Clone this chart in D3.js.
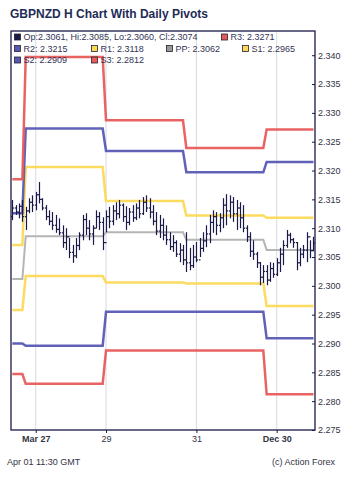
<!DOCTYPE html>
<html>
<head>
<meta charset="utf-8">
<script src="https://cdn.jsdelivr.net/npm/d3@7"></script>
<style>
body{margin:0;background:#fff;}
svg{display:block;font-family:"Liberation Sans",Arial,sans-serif;}
</style>
</head>
<body>
<div id="chart"></div>
<script>
// hourly bars, oldest first
var highs = [2.3149,2.3140,2.3143,2.3149,2.3137,2.3152,2.3157,2.3163,2.3180,2.3152,
	2.3140,2.3131,2.3128,2.3123,2.3117,2.3105,2.3100,2.3083,2.3071,2.3083,
	2.3093,2.3123,2.3126,2.3114,2.3105,2.3131,2.3128,2.3119,2.3131,2.3137,
	2.3140,2.3145,2.3149,2.3143,2.3138,2.3135,2.3140,2.3143,2.3149,2.3154,
	2.3157,2.3152,2.3140,2.3128,2.3123,2.3117,2.3105,2.3093,2.3088,2.3079,
	2.3074,2.3071,2.3093,2.3066,2.3071,2.3076,2.3083,2.3093,2.3105,2.3123,
	2.3131,2.3128,2.3126,2.3152,2.3159,2.3157,2.3154,2.3149,2.3145,2.3140,
	2.3105,2.3093,2.3079,2.3059,2.3041,2.3036,2.3036,2.3041,2.3040,2.3048,
	2.3066,2.3079,2.3097,2.3092,2.3083,2.3076,2.3066,2.3071,2.3093,2.3079,2.3085]
var lows = [2.3114,2.3123,2.3117,2.3111,2.3097,2.3126,2.3128,2.3131,2.3143,2.3131,
	2.3114,2.3105,2.3097,2.3092,2.3088,2.3066,2.3062,2.3048,2.3040,2.3048,
	2.3062,2.3079,2.3088,2.3079,2.3071,2.3100,2.3097,2.3062,2.3093,2.3100,
	2.3105,2.3114,2.3117,2.3111,2.3097,2.3105,2.3111,2.3114,2.3117,2.3123,
	2.3128,2.3117,2.3105,2.3088,2.3083,2.3079,2.3071,2.3062,2.3059,2.3050,
	2.3041,2.3036,2.3024,2.3027,2.3031,2.3041,2.3050,2.3059,2.3067,2.3074,
	2.3092,2.3088,2.3093,2.3100,2.3105,2.3117,2.3111,2.3097,2.3100,2.3093,
	2.3076,2.3050,2.3045,2.3031,2.3001,2.3005,2.3001,2.3007,2.3014,2.3017,
	2.3024,2.3036,2.3066,2.3074,2.3066,2.3027,2.3034,2.3048,2.3041,2.3048,2.3060]
var opens = [2.3120,2.3135,2.3128,2.3138,2.3120,2.3130,2.3145,2.3140,2.3158,2.3150,
	2.3135,2.3120,2.3112,2.3105,2.3098,2.3092,2.3075,2.3085,2.3058,2.3052,
	2.3070,2.3088,2.3115,2.3100,2.3090,2.3100,2.3120,2.3110,2.3075,2.3120,
	2.3112,2.3130,2.3125,2.3140,2.3120,2.3110,2.3128,2.3118,2.3135,2.3125,
	2.3145,2.3135,2.3128,2.3112,2.3095,2.3105,2.3088,2.3080,2.3068,2.3075,
	2.3055,2.3062,2.3045,2.3040,2.3035,2.3050,2.3045,2.3065,2.3078,2.3090,
	2.3110,2.3120,2.3105,2.3118,2.3140,2.3130,2.3145,2.3125,2.3135,2.3118,
	2.3100,2.3085,2.3060,2.3055,2.3040,2.3015,2.3025,2.3010,2.3030,2.3020,
	2.3040,2.3055,2.3070,2.3088,2.3080,2.3075,2.3040,2.3055,2.3062,2.3085,2.3061]
var closes = [2.3135,2.3128,2.3138,2.3120,2.3130,2.3145,2.3140,2.3158,2.3150,2.3135,
	2.3120,2.3112,2.3105,2.3098,2.3092,2.3075,2.3085,2.3058,2.3052,2.3070,
	2.3088,2.3115,2.3100,2.3090,2.3100,2.3120,2.3110,2.3075,2.3120,2.3112,
	2.3130,2.3125,2.3140,2.3120,2.3110,2.3128,2.3118,2.3135,2.3125,2.3145,
	2.3135,2.3128,2.3112,2.3095,2.3105,2.3088,2.3080,2.3068,2.3075,2.3055,
	2.3062,2.3045,2.3040,2.3035,2.3050,2.3045,2.3065,2.3078,2.3090,2.3110,
	2.3120,2.3105,2.3118,2.3140,2.3130,2.3145,2.3125,2.3135,2.3118,2.3100,
	2.3085,2.3060,2.3055,2.3040,2.3015,2.3025,2.3010,2.3030,2.3020,2.3040,
	2.3055,2.3070,2.3088,2.3080,2.3075,2.3040,2.3055,2.3062,2.3085,2.3061,2.3074]

// daily pivots: first bar index of each day, then one level per day
var dayStarts = [0,4,28,52,76]
var R3 = [2.3185,2.3397,2.3287,2.3239,2.3271]
var R2 = [2.3126,2.3273,2.3234,2.3197,2.3215]
var R1 = [2.3071,2.3206,2.3147,2.3122,2.3118]
var PP = [2.3012,2.3086,2.3093,2.3080,2.3062]
var S1 = [2.2958,2.3017,2.3006,2.3004,2.2965]
var S2 = [2.2900,2.2896,2.2955,2.2955,2.2909]
var S3 = [2.2847,2.2830,2.2888,2.2888,2.2812]

var xTickIdx = [7,28,55,79]
var xTickLabels = ["Mar 27","29","31","Dec 30"]
var xTickBold = [true,false,false,true]
var yTicks = [2.275,2.280,2.285,2.290,2.295,2.300,2.305,2.310,2.315,2.320,2.325,2.330,2.335,2.340]

var colors = {R3:"#e85b5b",R2:"#5858b4",R1:"#fcd955",PP:"#b5b5b5",S1:"#fcd955",S2:"#5858b4",S3:"#e85b5b"}
var levels = {R3:R3,R2:R2,R1:R1,PP:PP,S1:S1,S2:S2,S3:S3}

var W = 350, H = 481
var plot = {left:11,right:315,top:31,bottom:430}
var ink = "#1a1a48"

var svg = d3.select("#chart").append("svg").attr("width",W).attr("height",H)

var x = d3.scaleLinear().domain([-0.4,90.45]).range([plot.left,plot.right])
var y = d3.scaleLinear().domain([2.275,2.3442]).range([plot.bottom,plot.top])

function dayOf(i){
	var d = 0
	for(var k=0;k<dayStarts.length;k++){ if(i>=dayStarts[k]) d = k }
	return d
}

// title
svg.append("text").attr("x",10).attr("y",18)
	.attr("font-size","12px").attr("font-weight","bold").attr("fill","#1e2b55")
	.text("GBPNZD H Chart With Daily Pivots")

// vertical grid
svg.append("g").selectAll("line").data(xTickIdx).enter().append("line")
	.attr("x1",function(d){return x(d)}).attr("x2",function(d){return x(d)})
	.attr("y1",plot.top).attr("y2",plot.bottom)
	.attr("stroke","#d9d9e2").attr("stroke-width",1)

// pivot lines
var line = d3.line().x(function(d){return x(d.i)}).y(function(d){return y(d.v)})
var order = ["PP","S3","S2","S1","R1","R2","R3"]
order.forEach(function(k){
	var pts = highs.map(function(h,i){ return {i:i,v:levels[k][dayOf(i)]} })
	svg.append("path").datum(pts).attr("d",line)
		.attr("fill","none").attr("stroke",colors[k])
		.attr("stroke-width",k=="PP"?2:2.5)
		.attr("stroke-opacity",k=="PP"?1:0.95)
})

// OHLC bars
var bars = svg.append("g").attr("stroke",ink).attr("stroke-width",1.2)
highs.forEach(function(h,i){
	var cx = Math.round(x(i))+0.5
	bars.append("line").attr("x1",cx).attr("x2",cx).attr("y1",y(h)).attr("y2",y(lows[i]))
	bars.append("line").attr("x1",cx-1.6).attr("x2",cx).attr("y1",y(opens[i])).attr("y2",y(opens[i]))
	bars.append("line").attr("x1",cx).attr("x2",cx+1.6).attr("y1",y(closes[i])).attr("y2",y(closes[i]))
})

// frame
svg.append("rect").attr("x",plot.left).attr("y",plot.top)
	.attr("width",plot.right-plot.left).attr("height",plot.bottom-plot.top)
	.attr("fill","none").attr("stroke",ink).attr("stroke-width",1.3)

// y axis on the right, ticks pointing in
var yAxis = svg.append("g").attr("transform","translate("+plot.right+",0)")
	.call(d3.axisRight(y).tickValues(yTicks).tickSize(-3).tickPadding(3).tickFormat(d3.format(".3f")))
yAxis.select(".domain").remove()
yAxis.selectAll("line").attr("stroke",ink)
yAxis.selectAll("text").attr("font-size","9px").attr("fill","#333344").attr("font-family","Liberation Sans, Arial, sans-serif")

// x axis
var xAxis = svg.append("g").attr("transform","translate(0,"+plot.bottom+")")
	.call(d3.axisBottom(x).tickValues(xTickIdx).tickSize(3).tickPadding(3)
		.tickFormat(function(d,i){return xTickLabels[i]}))
xAxis.select(".domain").remove()
xAxis.selectAll("line").attr("stroke",ink)
xAxis.selectAll("text").attr("font-size","9px").attr("fill","#333344")
	.attr("font-family","Liberation Sans, Arial, sans-serif")
	.attr("font-weight",function(d,i){return xTickBold[i]?"bold":"normal"})

// legend
var last = highs.length-1
var lastDay = dayStarts.length-1
var legendItems = [
	{label:"Op:"+opens[last].toFixed(4)+", Hi:"+highs[last].toFixed(4)+", Lo:"+lows[last].toFixed(4)+", Cl:"+closes[last].toFixed(4),color:ink,x:14,row:0},
	{label:"R3: "+R3[lastDay].toFixed(4),color:colors.R3,x:221,row:0},
	{label:"R2: "+R2[lastDay].toFixed(4),color:colors.R2,x:14,row:1},
	{label:"R1: "+R1[lastDay].toFixed(4),color:colors.R1,x:91,row:1},
	{label:"PP: "+PP[lastDay].toFixed(4),color:"#999999",x:166,row:1},
	{label:"S1: "+S1[lastDay].toFixed(4),color:colors.S1,x:242,row:1},
	{label:"S2: "+S2[lastDay].toFixed(4),color:colors.S2,x:14,row:2},
	{label:"S3: "+S3[lastDay].toFixed(4),color:colors.S3,x:91,row:2}
]
var leg = svg.append("g").selectAll("g").data(legendItems).enter().append("g")
	.attr("transform",function(d){return "translate("+d.x+","+(37+d.row*11.5)+")"})
leg.append("rect").attr("x",0.5).attr("y",-3).attr("width",6).attr("height",6)
	.attr("fill",function(d){return d.color}).attr("stroke","#222233").attr("stroke-width",0.8)
leg.append("text").attr("x",9.5).attr("y",3.3).attr("font-size","9px").attr("fill","#333355")
	.text(function(d){return d.label})

// footer
svg.append("text").attr("x",7).attr("y",465).attr("font-size","9px").attr("fill","#333344")
	.text("Apr 01 11:30 GMT")
svg.append("text").attr("x",335).attr("y",465).attr("text-anchor","end").attr("font-size","9px").attr("fill","#333344")
	.text("(c) Action Forex")
</script>
</body>
</html>
